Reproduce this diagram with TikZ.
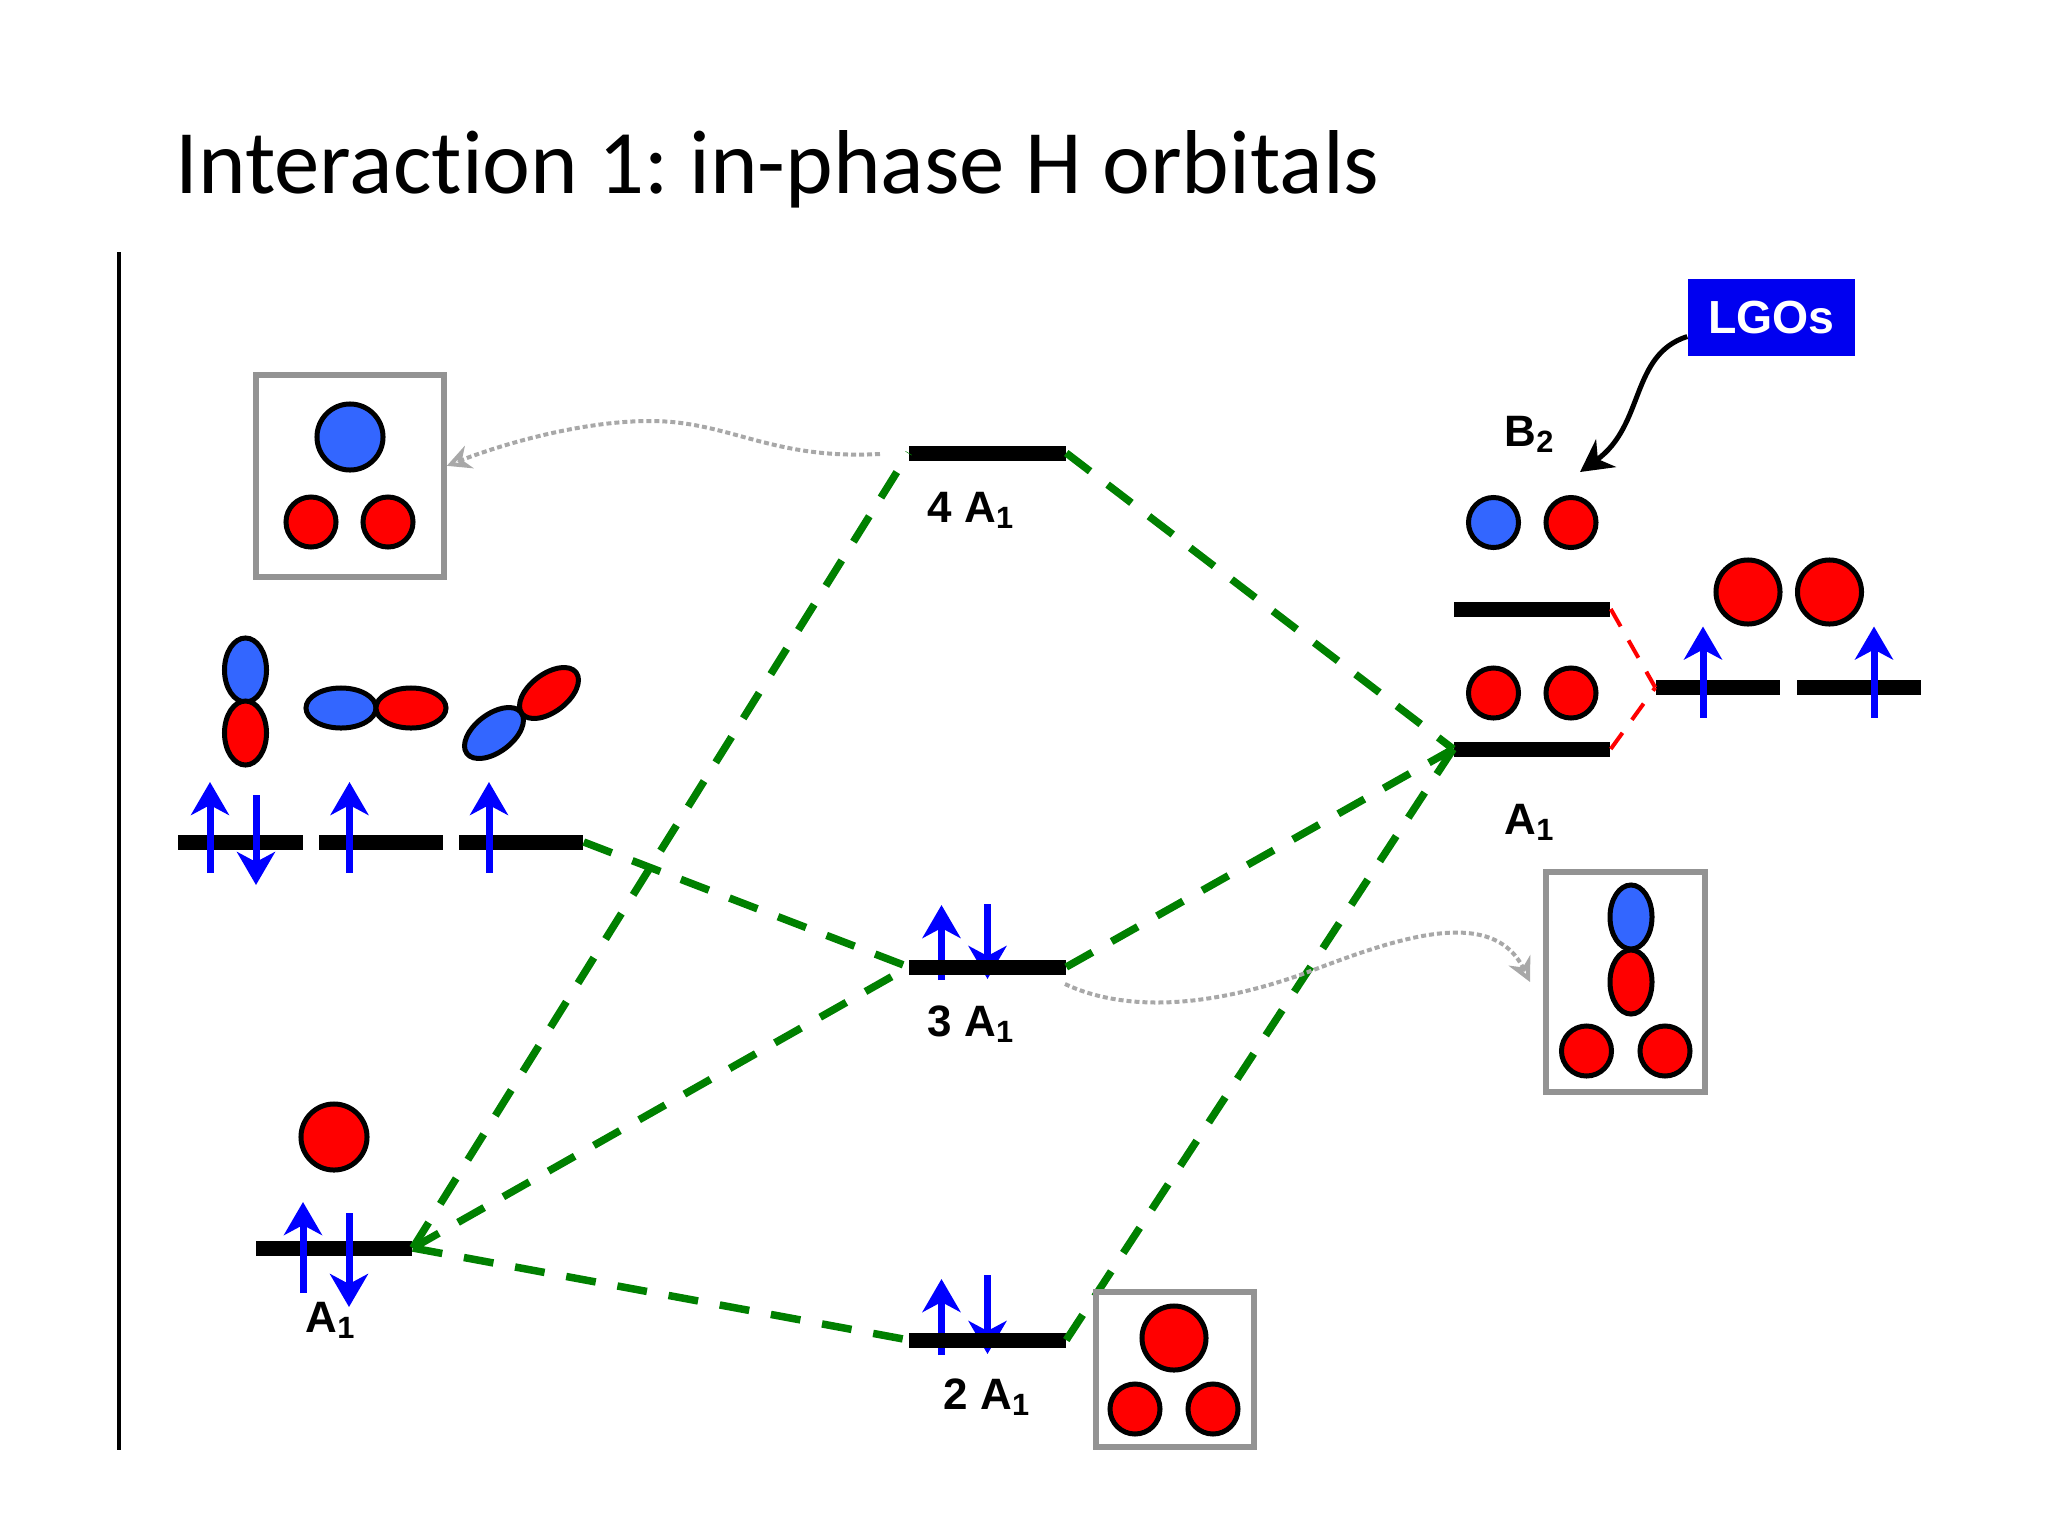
\documentclass[tikz,border=0pt]{standalone}
\usepackage{xcolor}
\usepackage{fontspec}
\setmainfont{Carlito}[RawFeature=-liga]
\setsansfont{Liberation Sans}
\usepackage{tikz}
\usetikzlibrary{positioning, arrows.meta, shapes.geometric}
\definecolor{fg}{HTML}{000000}
\definecolor{lobeRed}{HTML}{FF0000}
\definecolor{lobeBlue}{HTML}{3366FF}
\definecolor{spinBlue}{HTML}{0000FF}
\definecolor{tagBlue}{HTML}{0000F0}
\definecolor{mixGreen}{HTML}{008000}
\definecolor{frameGray}{HTML}{939393}
\definecolor{dotGray}{HTML}{A8A8A8}
\tikzset{
  level/.style={rectangle, fill=black, inner sep=0pt, minimum height=.15cm, minimum width=1.56cm},
  shortlevel/.style={level, minimum width=1.24cm},
  lobe/.style={ellipse, draw=black, line width=.05cm, inner sep=0pt},
  redball/.style={lobe, fill=lobeRed, minimum width=.5cm, minimum height=.5cm},
  bigball/.style={lobe, fill=lobeRed, minimum width=.64cm, minimum height=.64cm},
  tall/.style={lobe, minimum width=.42cm, minimum height=.64cm},
  wide/.style={lobe, minimum width=.7cm, minimum height=.4cm},
  slant/.style={lobe, minimum width=.68cm, minimum height=.38cm, rotate=37},
  framebox/.style={rectangle, draw=frameGray, line width=.055cm, fill=white, inner sep=0pt},
  symlabel/.style={anchor=base west, inner sep=0pt, font=\fontsize{12.5}{15}\sffamily\bfseries},
  spin/.style={draw=spinBlue, line width=.07cm, -{Stealth[length=.33cm, width=.38cm, inset=.1cm]}},
  mixline/.style={draw=mixGreen, line width=.075cm, dash pattern=on .3cm off .22cm},
  redline/.style={draw=lobeRed, line width=.04cm, dash pattern=on .2cm off .16cm},
  dotline/.style={draw=dotGray, line width=.04cm, dash pattern=on .05cm off .03cm, -{Stealth[open, length=.24cm, width=.24cm]}}
}
\begin{document}
\begin{tikzpicture}[x=.01cm, y=-.01cm]
  \useasboundingbox (0,0) rectangle (2048,1536);
  \node[anchor=base west, inner sep=0pt, text=fg, font=\fontsize{25.8}{31}\selectfont] (title) at (175,193) {Interaction 1:\kern-.07cm{} in-phase H orbitals};
  \draw[black, line width=.04cm] (119,252) -- (119,1450);

  \coordinate (cThree) at (987.5,967);
  \coordinate (cTwo) at (987.5,1340);
  \draw[spin] (cThree) +(-46,13) -- +(-46,-62);
  \draw[spin] (cThree) +(0,-63) -- +(0,12);
  \draw[spin] (cTwo) +(-46,15) -- +(-46,-61);
  \draw[spin] (cTwo) +(0,-65) -- +(0,14);

  \node[level] (mo4) at (987.5,453) {};
  \node[level] (mo3) at (cThree) {};
  \node[level] (mo2) at (cTwo) {};
  \node[level] (aOne) at (334,1248) {};
  \node[shortlevel] (pz) at (240.5,842) {};
  \node[shortlevel] (px) at (381,842) {};
  \node[shortlevel] (py) at (521,842) {};
  \node[level] (lgoB) at (1532,609) {};
  \node[level] (lgoA) at (1532,749) {};
  \node[shortlevel] (hLeft) at (1718,687.5) {};
  \node[shortlevel] (hRight) at (1859,687.5) {};

  \draw[mixline] (py.east) -- (mo3.west);
  \draw[mixline] (aOne.east) -- (mo4.west);
  \draw[mixline] (aOne.east) -- (mo3.west);
  \draw[mixline] (aOne.east) -- (mo2.west);
  \draw[mixline] (mo4.east) -- (lgoA.west);
  \draw[mixline] (mo3.east) -- (lgoA.west);
  \draw[mixline] (mo2.east) -- (lgoA.west);
  \draw[redline] (lgoB.east) -- (hLeft.west);
  \draw[redline] (lgoA.east) -- (hLeft.west);

  \draw[spin] (pz) +(-30.5,31) -- +(-30.5,-60);
  \draw[spin] (pz) +(15.5,-47) -- +(15.5,43);
  \draw[spin] (px) +(-31.5,31) -- +(-31.5,-60);
  \draw[spin] (py) +(-32,31) -- +(-32,-60);
  \draw[spin] (aOne) +(-31,45) -- +(-31,-46);
  \draw[spin] (aOne) +(15,-35) -- +(15,59);
  \draw[spin] (hLeft) +(-15,30) -- +(-15,-61);
  \draw[spin] (hRight) +(15,30) -- +(15,-61);

  \node[framebox, minimum width=1.88cm, minimum height=2.02cm] (boxFour) at (350,476) {};
  \node[lobe, fill=lobeBlue, minimum width=.66cm, minimum height=.66cm] (boxFourTop) at (350,437) {};
  \node[redball] (boxFourLeft) at (311,522) {};
  \node[redball] (boxFourRight) at (388,522) {};

  \node[framebox, minimum width=1.59cm, minimum height=2.2cm] (boxThree) at (1625.5,982) {};
  \node[tall, fill=lobeBlue] (boxThreeUp) at (1631,917) {};
  \node[tall, fill=lobeRed] (boxThreeDown) at (1631,982) {};
  \node[redball] (boxThreeLeft) at (1586.5,1051) {};
  \node[redball] (boxThreeRight) at (1665,1051) {};

  \node[framebox, minimum width=1.58cm, minimum height=1.55cm] (boxTwo) at (1175,1369.5) {};
  \node[bigball] (boxTwoTop) at (1174,1338) {};
  \node[redball] (boxTwoLeft) at (1135,1409) {};
  \node[redball] (boxTwoRight) at (1213,1409) {};

  \node[tall, fill=lobeBlue] (pzUp) at (245.5,670) {};
  \node[tall, fill=lobeRed] (pzDown) at (245.5,733) {};
  \node[wide, fill=lobeBlue] (pxLeft) at (341,708) {};
  \node[wide, fill=lobeRed] (pxRight) at (411,708) {};
  \node[slant, fill=lobeBlue] (pyLow) at (494,733) {};
  \node[slant, fill=lobeRed] (pyHigh) at (549,693) {};

  \node[bigball, minimum width=.66cm, minimum height=.66cm] (aOneBall) at (334,1137) {};
  \node[lobe, fill=lobeBlue, minimum width=.5cm, minimum height=.5cm] (bTwoLeft) at (1493.5,522.5) {};
  \node[lobe, fill=lobeRed, minimum width=.5cm, minimum height=.5cm] (bTwoRight) at (1571,522.5) {};
  \node[lobe, fill=lobeRed, minimum width=.5cm, minimum height=.5cm] (aLeft) at (1493.5,693) {};
  \node[lobe, fill=lobeRed, minimum width=.5cm, minimum height=.5cm] (aRight) at (1571,693) {};
  \node[bigball] (hBallLeft) at (1748,592) {};
  \node[bigball] (hBallRight) at (1829.5,592) {};

  \node[symlabel] (labelFour) at (927,522) {4 A\textsubscript{1}};
  \node[symlabel] (labelThree) at (927,1036) {3 A\textsubscript{1}};
  \node[symlabel] (labelTwo) at (943,1409) {2 A\textsubscript{1}};
  \node[symlabel] (labelOne) at (305,1332) {A\textsubscript{1}};
  \node[symlabel] (labelB) at (1504,446) {B\textsubscript{2}};
  \node[symlabel] (labelA) at (1504,834) {A\textsubscript{1}};

  \node[rectangle, fill=tagBlue, text=white, inner sep=0pt, minimum width=1.67cm, minimum height=.77cm,
        font=\fontsize{13.2}{16}\sffamily\bfseries] (lgos) at (1771.5,317.5) {\raisebox{-3pt}{LGOs}};
  \coordinate (lgosTip) at (1580,472);
  \draw[black, line width=.05cm, -{Stealth[length=.32cm, width=.34cm, inset=.1cm]}]
    ([yshift=-.19cm]lgos.west) .. controls (1630,355) and (1645,425) .. (lgosTip);

  \coordinate (dotFour) at (880,454);
  \draw[dotline] (dotFour) .. controls (770,460) and (730,421) .. (650,421)
    .. controls (580,421) and (500,445) .. (boxFour.6);
  \coordinate (dotThree) at (1065,984);
  \coordinate (dotEnd) at (1530,982);
  \draw[dotline] (dotThree) .. controls (1120,1010) and (1200,1010) .. (1300,975)
    .. controls (1380,945) and (1490,900) .. (dotEnd);
\end{tikzpicture}
\end{document}
